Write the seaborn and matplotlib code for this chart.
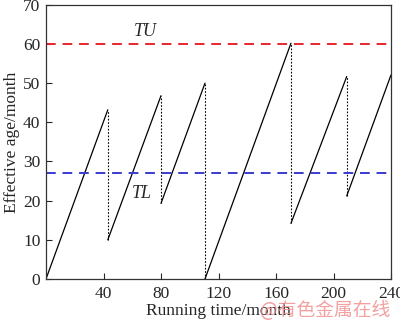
import matplotlib
matplotlib.use("Agg")
import matplotlib.pyplot as plt
import seaborn as sns
import pandas as pd

# Sawtooth effective-age segments (start time/age -> end time/age)
seg_start_time = [0, 43, 80, 110.6, 170.4, 209.2]
seg_start_age = [0, 10, 19.3, 0, 14.2, 21.2]
seg_end_time = [43, 80, 110.6, 170.4, 209.2, 240]
seg_end_age = [43.2, 46.8, 50.0, 60.2, 51.7, 52.1]

TU_value = 60
TL_value = 27

x_ticks = [40, 80, 120, 160, 200, 240]
y_ticks = [0, 10, 20, 30, 40, 50, 60, 70]

rows = []
for i in range(len(seg_start_time)):
    rows.append({"seg": i, "time": seg_start_time[i], "age": seg_start_age[i]})
    rows.append({"seg": i, "time": seg_end_time[i], "age": seg_end_age[i]})
df = pd.DataFrame(rows)

sns.set_style("ticks")
plt.rcParams["font.family"] = ["Liberation Serif", "DejaVu Serif"]

fig = plt.figure(figsize=(4.0, 3.24), dpi=100)
ax = fig.add_axes([0.115, 0.139, 0.8625, 0.846])

sns.lineplot(data=df, x="time", y="age", units="seg", estimator=None,
             color="black", linewidth=0.9, ax=ax, legend=False)

# dotted drops at each maintenance
for i in range(len(seg_end_time) - 1):
    ax.vlines(seg_end_time[i], seg_start_age[i + 1], seg_end_age[i],
              colors="black", linestyles=(0, (1.5, 1.5)), linewidth=0.8)

ax.axhline(TU_value, color="#e8262b", linestyle=(0, (5, 3.5)), linewidth=1.4)
ax.axhline(TL_value, color="#3a3ad0", linestyle=(0, (5, 3.5)), linewidth=1.4)

ax.text(68.9, 63.1, "TU", style="italic", fontsize=13, ha="center", va="center")
ax.text(66.6, 21.9, "TL", style="italic", fontsize=13, ha="center", va="center")

ax.set_xlim(0, 240)
ax.set_ylim(0, 70)
ax.set_xticks(x_ticks)
ax.set_yticks(y_ticks)
ax.tick_params(direction="in", length=4, width=0.8, labelsize=12.5, pad=4)
ax.tick_params(axis="x", pad=5)
for s in ax.spines.values():
    s.set_visible(True)
    s.set_linewidth(0.9)
    s.set_color("#333333")

ax.set_xlabel("Running time/month", fontsize=12.5, labelpad=1)
ax.set_ylabel("Effective age/month", fontsize=12.5, labelpad=2)

fig.text(0.975, 0.043, "@有色金属在线", family=["Noto Sans CJK SC", "DejaVu Sans"],
         fontsize=13.5, color="#f09090", ha="right", va="center", alpha=0.85)

fig.savefig("out.png", dpi=100)
